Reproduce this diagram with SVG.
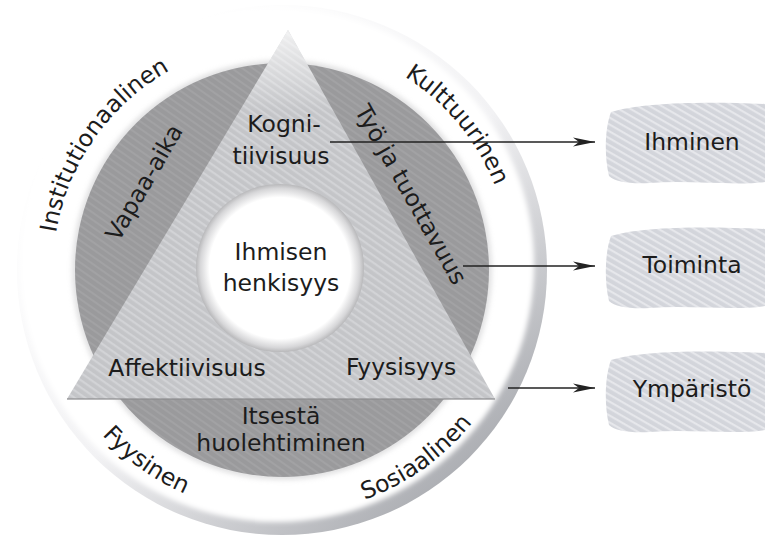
<svg xmlns="http://www.w3.org/2000/svg" width="765" height="541" viewBox="0 0 765 541">
<defs>
<style>
text { font-family: "DejaVu Sans", "Liberation Sans", sans-serif; font-size: 23.5px; fill: #1c1c1c; }
.c { text-anchor: middle; }
.conn { stroke: #222; stroke-width: 1.6; fill: none; marker-end: url(#arr); }
.box { fill: url(#boxP); }
</style>
<linearGradient id="rimG" x1="0.2" y1="0.15" x2="0.85" y2="0.9">
<stop offset="0" stop-color="#ffffff"/>
<stop offset="0.5" stop-color="#f2f2f4"/>
<stop offset="1" stop-color="#a9abb0"/>
</linearGradient>
<filter id="soft" x="-5%" y="-5%" width="110%" height="110%">
<feGaussianBlur stdDeviation="2.5"/>
</filter>
<radialGradient id="innerG" cx="280" cy="268" r="84" gradientUnits="userSpaceOnUse">
<stop offset="0.84" stop-color="#ffffff"/>
<stop offset="0.95" stop-color="#d6d6d8"/>
<stop offset="1" stop-color="#b8b8ba"/>
</radialGradient>
<linearGradient id="triShade" x1="0" y1="30" x2="0" y2="110" gradientUnits="userSpaceOnUse">
<stop offset="0" stop-color="#ffffff" stop-opacity="0.75"/>
<stop offset="1" stop-color="#ffffff" stop-opacity="0"/>
</linearGradient>
<pattern id="triP" width="6" height="6" patternUnits="userSpaceOnUse" patternTransform="rotate(35)">
<rect width="6" height="6" fill="#c4c5c8"/>
<rect width="6" height="2.2" fill="#d2d3d6"/>
</pattern>
<pattern id="darkP" width="6" height="6" patternUnits="userSpaceOnUse" patternTransform="rotate(35)">
<rect width="6" height="6" fill="#9a9a9c"/>
<rect width="6" height="2" fill="#a2a2a4"/>
</pattern>
<pattern id="boxP" width="6" height="6" patternUnits="userSpaceOnUse" patternTransform="rotate(30)">
<rect width="6" height="6" fill="#d3d5db"/>
<rect width="6" height="2.2" fill="#e6e7eb"/>
</pattern>
<marker id="arr" markerWidth="22" markerHeight="10" refX="22" refY="5" orient="auto" markerUnits="userSpaceOnUse">
<path d="M0,0.5 L22,5 L0,9.5 L6,5 Z" fill="#222"/>
</marker>
<path id="pInst" d="M74.5,366.8 A229,229 0 0 1 302,41.9"/>
<path id="pKult" d="M243.8,44.2 A229,229 0 0 1 496.6,349.8"/>
<path id="pFyys" d="M39.1,246.6 A244,244 0 0 0 383.2,492"/>
<path id="pSos" d="M180.8,492 A244,244 0 0 0 524.9,246.6"/>
</defs>

<g id="disc">
<circle cx="282" cy="270" r="265" fill="url(#rimG)"/>
<circle cx="277" cy="265" r="257" fill="#ffffff" filter="url(#soft)"/>
<circle cx="282" cy="270" r="210" fill="#c4c4c6" opacity="0.5" filter="url(#soft)"/>
<circle cx="282" cy="270" r="207" fill="url(#darkP)"/>
</g>

<g id="triangle">
<polygon points="288,30 67,399 495,399" fill="url(#triP)"/>
<polygon points="288,30 67,399 495,399" fill="url(#triShade)"/>
<line x1="67" y1="399" x2="495" y2="399" stroke="#8c8c8e" stroke-width="2" opacity="0.6"/>
</g>

<g id="center">
<circle cx="280" cy="268" r="84" fill="url(#innerG)"/>
<text class="c" x="281" y="260">Ihmisen</text>
<text class="c" x="281" y="291">henkisyys</text>
</g>

<g id="ring-labels">
<text><textPath href="#pInst" startOffset="50%" text-anchor="middle">Institutionaalinen</textPath></text>
<text><textPath href="#pKult" startOffset="50%" text-anchor="middle">Kulttuurinen</textPath></text>
<text><textPath href="#pFyys" startOffset="50%" text-anchor="middle">Fyysinen</textPath></text>
<text><textPath href="#pSos" startOffset="50%" text-anchor="middle">Sosiaalinen</textPath></text>
</g>

<g id="segment-labels">
<text class="c" transform="translate(145,183) rotate(-60)" x="0" y="7">Vapaa-aika</text>
<text class="c" transform="translate(410,195) rotate(60.6)" x="0" y="7">Työ ja tuottavuus</text>
<text class="c" x="281" y="424">Itsestä</text>
<text class="c" x="281" y="451">huolehtiminen</text>
</g>

<g id="corner-labels">
<text class="c" x="284" y="132">Kogni-</text>
<text class="c" x="281" y="164">tiivisuus</text>
<text class="c" x="187" y="376">Affektiivisuus</text>
<text class="c" x="401" y="375">Fyysisyys</text>
</g>

<g id="connectors">
<line class="conn" x1="330" y1="142" x2="595" y2="142"/>
<line class="conn" x1="463" y1="266" x2="595" y2="266"/>
<line class="conn" x1="508" y1="388" x2="595" y2="388"/>
</g>

<g id="box-ihminen">
<path class="box" d="M611,112 C640,103 700,101 765,104 L765,182 C735,186 690,180 650,183 C630,184 615,182 609,176 C604,155 605,128 611,112 Z"/>
<text class="c" x="692" y="150">Ihminen</text>
</g>
<g id="box-toiminta">
<path class="box" d="M611,236 C640,227 700,226 765,229 L765,306 C735,311 690,305 650,308 C630,309 615,307 609,301 C604,280 605,252 611,236 Z"/>
<text class="c" x="692" y="273">Toiminta</text>
</g>
<g id="box-ymparisto">
<path class="box" d="M611,360 C640,351 700,350 765,353 L765,430 C735,435 690,429 650,432 C630,433 615,431 609,425 C604,404 605,376 611,360 Z"/>
<text class="c" x="692" y="397">Ympäristö</text>
</g>
</svg>
